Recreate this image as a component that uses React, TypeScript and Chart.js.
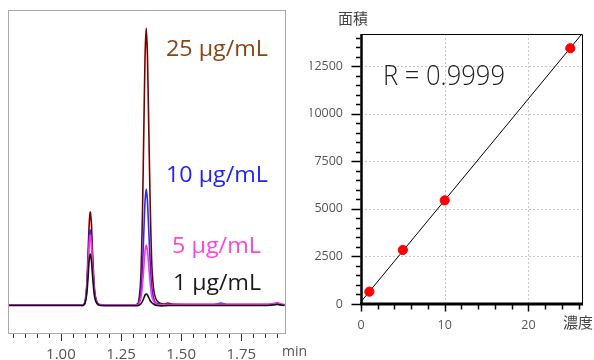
import React, { useEffect, useRef } from 'react';
import { Chart, registerables } from 'chart.js';
Chart.register(...registerables);

const FONT = '"Open Sans", "Noto Sans CJK JP", sans-serif';

// ---------- chromatogram data (time in min, arbitrary intensity) ----------
const TIME = [
  0.78, 0.90, 1.00, 1.08,
  1.092, 1.100, 1.107, 1.112, 1.117, 1.122, 1.127, 1.132, 1.137, 1.142, 1.150, 1.160,
  1.20, 1.26, 1.31,
  1.322, 1.332, 1.339, 1.345, 1.350, 1.355, 1.360, 1.365, 1.371, 1.377, 1.385, 1.395, 1.41,
  1.43, 1.445, 1.46,
  1.55, 1.64, 1.665, 1.69,
  1.80, 1.86, 1.885, 1.90, 1.915, 1.93,
];
const SIG_25 = [
  0, 0, 0, 0,
  0, 3, 18, 45, 78, 93, 81, 51, 26, 11, 3, 0.5,
  0, 0, 0,
  2, 26, 89, 177, 249, 277, 249, 183, 105, 47, 17, 6, 2,
  1, 2, 1,
  0.5, 0.5, 0.8, 0.5,
  0.5, 0.5, 1, 1, 0.5, 0.5,
];
const SIG_10 = [
  0, 0, 0, 0,
  0, 2, 15, 36, 63, 75, 65, 41, 21, 9, 2, 0.4,
  0, 0, 0,
  1, 11, 37, 74, 104, 116, 104, 77, 44, 20, 7, 2, 1,
  0.5, 0.5, 0.5,
  0.5, 0.5, 2, 0.5,
  0.5, 0.5, 1, 1, 0.5, 0,
];
const SIG_5 = [
  0, 0, 0, 0,
  0, 2, 14, 34, 58, 70, 61, 39, 20, 8, 2, 0.3,
  0, 0, 0,
  0, 6, 19, 38, 54, 60, 54, 40, 23, 10, 4, 1, 0,
  0.5, 0.5, 0.5,
  0.5, 0.5, 0.8, 0.5,
  0.5, 0.5, 1.5, 2.5, 1, 0,
];
const SIG_1 = [
  -0.5, -0.5, -0.5, -0.5,
  -0.5, 1.5, 10, 24, 43, 51, 44, 28, 14, 6, 1.5, -0.3,
  -0.8, -0.8, -0.8,
  -0.5, 1, 3.5, 7, 10, 11, 10, 7.5, 4.5, 2.5, 1, -0.3, -0.8,
  -0.8, -0.5, -0.5,
  -0.5, -0.5, -0.5, -0.5,
  -0.5, -0.5, 0, 0.5, 0, -0.5,
];
const SERIES_NAMES = ['1 µg/mL', '5 µg/mL', '10 µg/mL', '25 µg/mL'];
const TIME_TICK_LABELS = [1.0, 1.25, 1.5, 1.75];

// ---------- calibration data ----------
const CONC = [1, 5, 10, 25];
const AREA = [650, 2840, 5450, 13450];
const FIT_X = [0, 26.4];
const FIT_Y = [120, 14210];
const AREA_TICK_LABELS = [0, 2500, 5000, 7500, 10000, 12500];
const CONC_TICK_LABELS = [0, 10, 20];
const R_TEXT = 'R = 0.9999';

const near = (v: number, list: number[], eps = 1e-6) => list.some((l) => Math.abs(l - v) < eps);
const isMultiple = (v: number, step: number) => Math.abs(v / step - Math.round(v / step)) < 1e-6;

function fitText(ctx: CanvasRenderingContext2D, text: string, x: number, y: number, width: number) {
  const w = ctx.measureText(text).width;
  const sx = w > 0 ? Math.min(1.2, Math.max(0.8, width / w)) : 1;
  ctx.save();
  ctx.translate(x, y);
  ctx.scale(sx, 1);
  ctx.fillText(text, 0, 0);
  ctx.restore();
}

const chromPlugin = {
  id: 'chromDecor',
  afterDatasetsDraw(chart: any) {
    const ctx = chart.ctx as CanvasRenderingContext2D;
    ctx.save();
    ctx.font = `22px ${FONT}`;
    ctx.textBaseline = 'alphabetic';
    ctx.textAlign = 'left';
    const labels = [
      { t: SERIES_NAMES[3], c: '#8b4513', x: 166, y: 56, w: 102 },
      { t: SERIES_NAMES[2], c: '#2222ff', x: 166, y: 182, w: 102 },
      { t: SERIES_NAMES[1], c: '#ff44dd', x: 172, y: 253, w: 89 },
      { t: SERIES_NAMES[0], c: '#1a1a1a', x: 173, y: 290, w: 88 },
    ];
    for (const l of labels) {
      ctx.fillStyle = l.c;
      fitText(ctx, l.t, l.x, l.y, l.w);
    }
    ctx.restore();
  },
  afterDraw(chart: any) {
    const ctx = chart.ctx as CanvasRenderingContext2D;
    const a = chart.chartArea;
    ctx.save();
    ctx.strokeStyle = '#a8a8a8';
    ctx.lineWidth = 1;
    ctx.strokeRect(Math.round(a.left) + 0.5, Math.round(a.top) + 0.5, Math.round(a.right - a.left), Math.round(a.bottom - a.top));
    const xs = chart.scales.x;
    ctx.strokeStyle = '#333';
    ctx.lineWidth = 1;
    for (const t of xs.ticks) {
      if (!isMultiple(t.value, 0.05)) continue;
      const px = Math.round(xs.getPixelForValue(t.value)) + 0.5;
      const len = near(t.value, TIME_TICK_LABELS) ? 7 : 4;
      ctx.beginPath();
      ctx.moveTo(px, a.bottom + 1);
      ctx.lineTo(px, a.bottom + 1 + len);
      ctx.stroke();
    }
    ctx.fillStyle = '#555';
    ctx.font = `14px ${FONT}`;
    ctx.textBaseline = 'middle';
    ctx.textAlign = 'left';
    ctx.fillText('min', a.right - 3, 352);
    ctx.restore();
  },
};

const calPlugin = {
  id: 'calDecor',
  beforeDatasetsDraw(chart: any) {
    const ctx = chart.ctx as CanvasRenderingContext2D;
    const a = chart.chartArea;
    const xs = chart.scales.x;
    const ys = chart.scales.y;
    ctx.save();
    ctx.strokeStyle = '#c8c8c8';
    ctx.lineWidth = 1;
    ctx.setLineDash([2, 2]);
    for (const v of CONC_TICK_LABELS) {
      if (v === 0) continue;
      const px = Math.round(xs.getPixelForValue(v)) + 0.5;
      ctx.beginPath();
      ctx.moveTo(px, a.top);
      ctx.lineTo(px, a.bottom);
      ctx.stroke();
    }
    for (const v of AREA_TICK_LABELS) {
      if (v === 0) continue;
      const py = Math.round(ys.getPixelForValue(v)) + 0.5;
      ctx.beginPath();
      ctx.moveTo(a.left, py);
      ctx.lineTo(a.right, py);
      ctx.stroke();
    }
    ctx.restore();
  },
  afterDraw(chart: any) {
    const ctx = chart.ctx as CanvasRenderingContext2D;
    const a = chart.chartArea;
    const xs = chart.scales.x;
    const ys = chart.scales.y;
    ctx.save();
    ctx.strokeStyle = '#000';
    ctx.lineWidth = 1;
    ctx.beginPath();
    ctx.moveTo(a.left, Math.round(a.top) + 0.5);
    ctx.lineTo(Math.round(a.right) + 0.5, Math.round(a.top) + 0.5);
    ctx.lineTo(Math.round(a.right) + 0.5, a.bottom);
    ctx.stroke();
    ctx.lineWidth = 2.5;
    ctx.beginPath();
    ctx.moveTo(a.left + 0.5, a.top);
    ctx.lineTo(a.left + 0.5, a.bottom + 1);
    ctx.stroke();
    ctx.lineWidth = 3;
    ctx.beginPath();
    ctx.moveTo(a.left - 1, a.bottom);
    ctx.lineTo(a.right + 1, a.bottom);
    ctx.stroke();
    ctx.lineWidth = 1.5;
    for (const t of ys.ticks) {
      if (!isMultiple(t.value, 500)) continue;
      const py = Math.round(ys.getPixelForValue(t.value)) + 0.5;
      const len = near(t.value, AREA_TICK_LABELS) ? 9 : 4.5;
      ctx.beginPath();
      ctx.moveTo(a.left - 0.5, py);
      ctx.lineTo(a.left - 0.5 - len, py);
      ctx.stroke();
    }
    for (const t of xs.ticks) {
      if (!isMultiple(t.value, 2)) continue;
      const px = Math.round(xs.getPixelForValue(t.value)) + 0.5;
      const len = near(t.value, CONC_TICK_LABELS) ? 6.5 : 4.5;
      ctx.beginPath();
      ctx.moveTo(px, a.bottom + 1);
      ctx.lineTo(px, a.bottom + 1 + len);
      ctx.stroke();
    }
    ctx.fillStyle = '#444';
    ctx.font = `15px ${FONT}`;
    ctx.textBaseline = 'middle';
    ctx.textAlign = 'left';
    ctx.fillText('面積', 338 - 310, 20);
    ctx.fillText('濃度', 563 - 310, 324);
    ctx.fillStyle = '#222';
    ctx.font = `300 28px ${FONT}`;
    ctx.textBaseline = 'alphabetic';
    fitText(ctx, R_TEXT, 383 - 310, 85, 122);
    ctx.restore();
  },
};

export default function App() {
  const leftRef = useRef<HTMLCanvasElement>(null);
  const rightRef = useRef<HTMLCanvasElement>(null);

  useEffect(() => {
    const mk = (arr: number[]) => TIME.map((t, i) => ({ x: t, y: arr[i] }));
    const left = new Chart(leftRef.current as HTMLCanvasElement, {
      type: 'line',
      data: {
        datasets: [
          { label: SERIES_NAMES[0], data: mk(SIG_1), borderColor: '#111111' },
          { label: SERIES_NAMES[1], data: mk(SIG_5), borderColor: '#ff33dd' },
          { label: SERIES_NAMES[2], data: mk(SIG_10), borderColor: '#2a2aff' },
          { label: SERIES_NAMES[3], data: mk(SIG_25), borderColor: '#7a0000' },
        ],
      },
      options: {
        animation: false,
        responsive: false,
        layout: { padding: { left: 8, top: 10, right: 25, bottom: 0 } },
        plugins: { legend: { display: false }, tooltip: { enabled: false } },
        elements: { point: { radius: 0 }, line: { borderWidth: 1.6, tension: 0.2, fill: false } },
        scales: {
          x: {
            type: 'linear',
            min: 0.78,
            max: 1.932,
            grid: { display: false },
            border: { display: false },
            ticks: {
              stepSize: 0.05,
              autoSkip: false,
              maxRotation: 0,
              minRotation: 0,
              includeBounds: false,
              padding: 5,
              color: '#555',
              font: { size: 15, family: FONT },
              callback: (v: any) => (near(Number(v), TIME_TICK_LABELS) ? Number(v).toFixed(2) : ''),
            },
            afterFit: (s: any) => { s.height = 27; },
          },
          y: { display: false, min: -28, max: 295 },
        },
      } as any,
      plugins: [chromPlugin],
    });

    const right = new Chart(rightRef.current as HTMLCanvasElement, {
      type: 'scatter',
      data: {
        datasets: [
          {
            type: 'scatter',
            label: 'area',
            data: CONC.map((c, i) => ({ x: c, y: AREA[i] })),
            backgroundColor: '#ff0000',
            borderColor: '#ff0000',
            pointRadius: 4.6,
            order: 0,
          },
          {
            type: 'line',
            label: 'fit',
            data: FIT_X.map((x, i) => ({ x, y: FIT_Y[i] })),
            borderColor: '#000',
            borderWidth: 1,
            pointRadius: 0,
            order: 1,
          },
        ],
      } as any,
      options: {
        animation: false,
        responsive: false,
        layout: { padding: { left: 0, top: 34, right: 12, bottom: 0 } },
        plugins: { legend: { display: false }, tooltip: { enabled: false } },
        scales: {
          x: {
            type: 'linear',
            min: 0,
            max: 26.4,
            grid: { display: false },
            border: { display: false },
            ticks: {
              stepSize: 2,
              autoSkip: false,
              maxRotation: 0,
              minRotation: 0,
              includeBounds: false,
              padding: 6,
              color: '#555',
              font: { size: 12.5, family: FONT },
              callback: (v: any) => (near(Number(v), CONC_TICK_LABELS) ? String(v) : ''),
            },
            afterFit: (s: any) => { s.height = 56; },
          },
          y: {
            type: 'linear',
            min: 0,
            max: 14200,
            grid: { display: false },
            border: { display: false },
            ticks: {
              autoSkip: false,
              includeBounds: false,
              padding: 10,
              color: '#555',
              font: { size: 12.5, family: FONT },
              callback: (v: any) => (near(Number(v), AREA_TICK_LABELS) ? String(v) : ''),
            },
            afterBuildTicks: (s: any) => {
              const ticks: { value: number }[] = [];
              for (let v = 0; v <= s.max; v += 500) ticks.push({ value: v });
              s.ticks = ticks;
            },
            afterFit: (s: any) => { s.width = 51; },
          },
        },
      } as any,
      plugins: [calPlugin],
    });

    return () => {
      left.destroy();
      right.destroy();
    };
  }, []);

  return (
    <div style={{ position: 'absolute', left: 0, top: 0, width: 594, height: 360, background: '#fff', overflow: 'hidden' }}>
      <canvas ref={leftRef} width={310} height={360} style={{ position: 'absolute', left: 0, top: 0 }} />
      <canvas ref={rightRef} width={284} height={360} style={{ position: 'absolute', left: 310, top: 0 }} />
    </div>
  );
}
